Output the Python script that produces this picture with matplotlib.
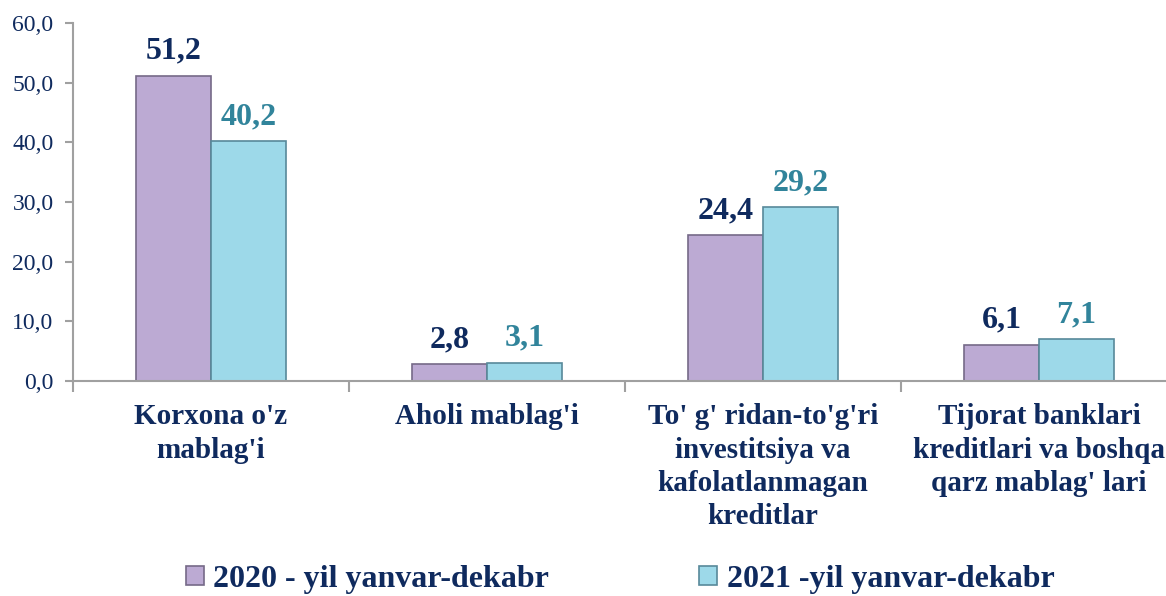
import matplotlib
matplotlib.use("Agg")
import matplotlib.pyplot as plt
import numpy as np

categories = ["Korxona o'z\nmablag'i", "Aholi mablag'i",
              "To' g' ridan-to'g'ri\ninvestitsiya va\nkafolatlanmagan\nkreditlar",
              "Tijorat banklari\nkreditlari va boshqa\nqarz mablag' lari"]
values_2020 = [51.2, 2.8, 24.4, 6.1]
values_2021 = [40.2, 3.1, 29.2, 7.1]
labels_2020 = ["51,2", "2,8", "24,4", "6,1"]
labels_2021 = ["40,2", "3,1", "29,2", "7,1"]
series_names = ["2020 - yil yanvar-dekabr", "2021 -yil yanvar-dekabr"]
yticks = [0, 10, 20, 30, 40, 50, 60]
ytick_labels = ["0,0", "10,0", "20,0", "30,0", "40,0", "50,0", "60,0"]

plt.rcParams['font.family'] = ['Liberation Serif', 'DejaVu Serif']
navy = '#0F2A5E'
teal = '#31849B'
c1 = '#BCAAD3'
c2 = '#9DD9E9'

W, H = 1166, 596
fig = plt.figure(figsize=(W / 100, H / 100), dpi=100)
ax = fig.add_axes([73 / W, (H - 381) / H, 1104 / W, 358 / H])

x = np.arange(len(categories))
bw = 0.27
b1 = ax.bar(x - bw / 2, values_2020, bw, color=c1, edgecolor='#766A88', linewidth=1.2,
            label=series_names[0])
b2 = ax.bar(x + bw / 2, values_2021, bw, color=c2, edgecolor='#58899A', linewidth=1.2,
            label=series_names[1])

for rect, lab in zip(b1, labels_2020):
    ax.annotate(lab, (rect.get_x() + rect.get_width() / 2, rect.get_height()),
                xytext=(0, 7), textcoords='offset points', ha='center', va='bottom',
                fontsize=23, fontweight='bold', color=navy)
for rect, lab in zip(b2, labels_2021):
    ax.annotate(lab, (rect.get_x() + rect.get_width() / 2, rect.get_height()),
                xytext=(0, 7), textcoords='offset points', ha='center', va='bottom',
                fontsize=23, fontweight='bold', color=teal)

ax.set_xlim(-0.5, 3.5)
ax.set_ylim(0, 60)
ax.set_yticks(yticks)
ax.set_yticklabels(ytick_labels, fontsize=17, color=navy)
ax.set_xticks(x)
ax.set_xticklabels(categories, fontsize=21, fontweight='bold', color=navy,
                   linespacing=1.3, va='top')
ax.tick_params(axis='x', length=0, pad=16)
ax.set_xticks([-0.5, 0.5, 1.5, 2.5], minor=True)
ax.tick_params(axis='x', which='minor', length=8, width=1.5, color='#A0A0A0', direction='out')
ax.tick_params(axis='y', length=6, width=1.5, color='#A0A0A0', pad=8)

for s in ['top', 'right']:
    ax.spines[s].set_visible(False)
for s in ['left', 'bottom']:
    ax.spines[s].set_color('#A0A0A0')
    ax.spines[s].set_linewidth(1.5)

leg = fig.legend(handles=[b1, b2], loc='lower center', bbox_to_anchor=(0.532, -0.045),
                 ncol=2, frameon=False, prop={'size': 23, 'weight': 'bold'},
                 handlelength=0.55, handleheight=0.55, handletextpad=0.3, columnspacing=4.7)
for t in leg.get_texts():
    t.set_color(navy)

fig.savefig('out.png', dpi=100)
